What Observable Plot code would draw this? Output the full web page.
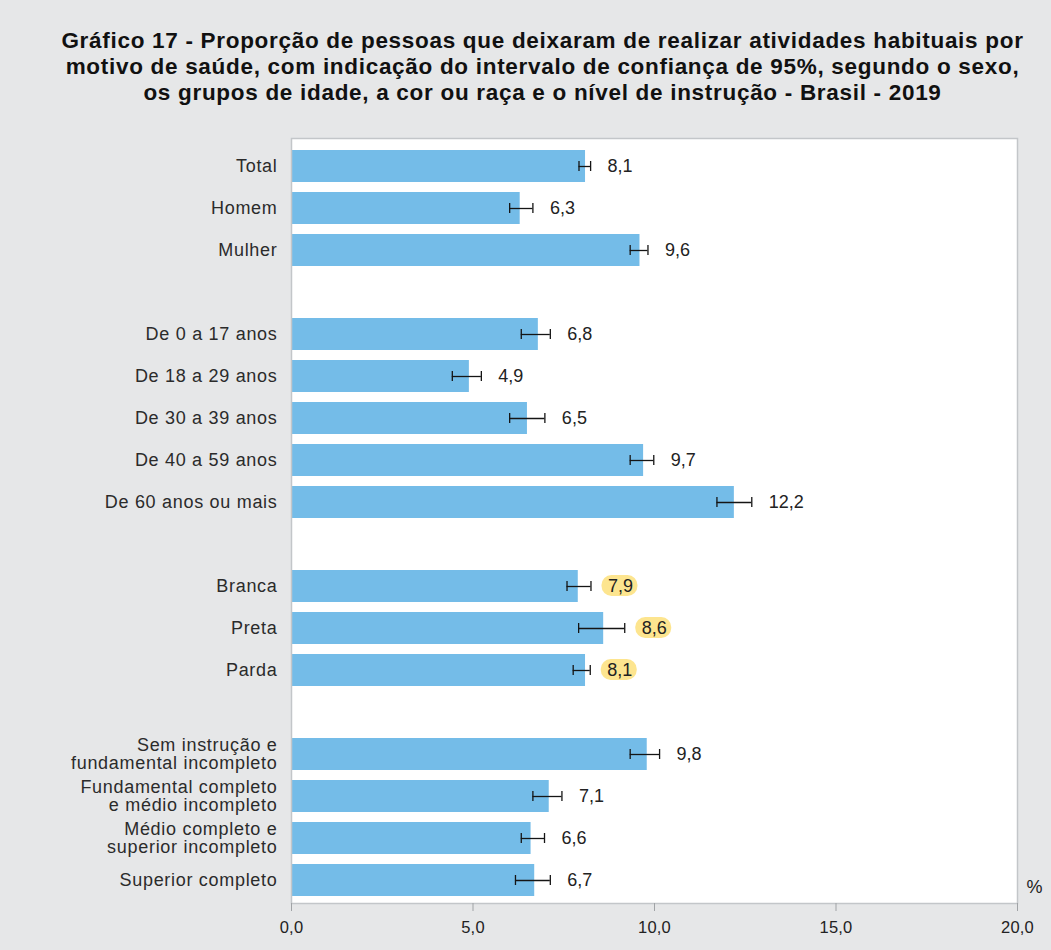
<!DOCTYPE html>
<html>
<head>
<meta charset="utf-8">
<script src="https://cdn.jsdelivr.net/npm/d3@7"></script>
<script src="https://cdn.jsdelivr.net/npm/@observablehq/plot@0.6"></script>
<style>
  html, body { margin: 0; padding: 0; background: #e6e7e8; }
  #title {
    width: 1051px; height: 120px; box-sizing: border-box; padding-top: 28px; padding-left: 34px;
    text-align: center; font-family: "Liberation Sans", Arial, sans-serif;
    font-weight: bold; font-size: 22.5px; line-height: 26px; letter-spacing: 0.7px; color: #111;
    white-space: nowrap;
  }
  #chart svg { display: block; }
  #chart svg g[aria-label="y-axis tick label"] { letter-spacing: 0.7px; }
  #chart svg g[aria-label="x-axis tick label"] { letter-spacing: 0.2px; }
</style>
</head>
<body>
<div id="title">Gráfico 17 - Proporção de pessoas que deixaram de realizar atividades habituais por<br>motivo de saúde, com indicação do intervalo de confiança de 95%, segundo o sexo,<br>os grupos de idade, a cor ou raça e o nível de instrução - Brasil - 2019</div>
<div id="chart"></div>
<script>
const categories = [
  "Total", "Homem", "Mulher",
  "De 0 a 17 anos", "De 18 a 29 anos", "De 30 a 39 anos", "De 40 a 59 anos", "De 60 anos ou mais",
  "Branca", "Preta", "Parda",
  "Sem instrução e\nfundamental incompleto", "Fundamental completo\ne médio incompleto",
  "Médio completo e\nsuperior incompleto", "Superior completo"
];
const groupIds = [0, 0, 0, 1, 1, 1, 1, 1, 2, 2, 2, 3, 3, 3, 3];
const values = [8.1, 6.3, 9.6, 6.8, 4.9, 6.5, 9.7, 12.2, 7.9, 8.6, 8.1, 9.8, 7.1, 6.6, 6.7];
const lower  = [7.92, 6.01, 9.33, 6.33, 4.43, 6.01, 9.33, 11.72, 7.59, 7.91, 7.76, 9.33, 6.65, 6.33, 6.17];
const upper  = [8.24, 6.65, 9.82, 7.13, 5.23, 6.98, 9.98, 12.68, 8.25, 9.18, 8.23, 10.14, 7.45, 6.97, 7.13];
const highlighted = ["Branca", "Preta", "Parda"];
const xTicks = [0, 5, 10, 15, 20];
const xTickLabels = ["0,0", "5,0", "10,0", "15,0", "20,0"];

const fmt = (v) => v.toFixed(1).replace(".", ",");
const data = categories.map((c, i) => ({
  category: c, value: values[i], lower: lower[i], upper: upper[i],
  label: fmt(values[i]), highlight: highlighted.includes(c)
}));
const domain = [];
categories.forEach((c, i) => {
  if (i > 0 && groupIds[i] !== groupIds[i - 1]) domain.push("gap" + groupIds[i]);
  domain.push(c);
});

const ink = "#151515";
const chart = Plot.plot({
  width: 1051, height: 830,
  marginTop: 18, marginBottom: 47, marginLeft: 291, marginRight: 34,
  style: {background: "transparent", fontFamily: "'Liberation Sans', Arial, sans-serif", fontSize: "17px", color: "#2b2b2b", overflow: "visible"},
  x: {domain: [0, 20]},
  y: {type: "band", domain, paddingInner: 0.23, paddingOuter: 0.115, insetTop: 7, insetBottom: 2},
  marks: [
    Plot.frame({fill: "white", stroke: null}),
    Plot.barX(data, {y: "category", x: "value", fill: "#74bce8"}),
    Plot.ruleY(data, {y: "category", x1: "lower", x2: "upper", stroke: ink, strokeWidth: 1.3}),
    Plot.tickX(data, {y: "category", x: "lower", stroke: ink, strokeWidth: 1.3, insetTop: 11, insetBottom: 11}),
    Plot.tickX(data, {y: "category", x: "upper", stroke: ink, strokeWidth: 1.3, insetTop: 11, insetBottom: 11}),
    Plot.barX(data.filter(d => d.highlight), {y: "category", x1: "upper", x2: "upper", insetLeft: 11, insetRight: -47, insetTop: 5, insetBottom: 6, rx: 10, fill: "#fde58f"}),
    Plot.text(data, {y: "category", x: "upper", text: "label", dx: 17, textAnchor: "start", fill: "#222", fontSize: 18}),
    Plot.frame({stroke: "#c3c6c9", strokeWidth: 1.5}),
    Plot.axisX({ticks: xTicks, tickFormat: d => xTickLabels[xTicks.indexOf(d)], tickSize: 8, tickPadding: 10, stroke: "#a0a3a6", fill: "#222", fontSize: 16.5, label: null}),
    Plot.axisY({tickSize: 0, tickPadding: 14, tickFormat: d => d.startsWith("gap") ? "" : d, fill: "#2b2b2b", fontSize: 18, lineHeight: 1.0, label: null}),
    Plot.text(["%"], {frameAnchor: "bottom-right", textAnchor: "start", dx: 9, dy: -11, fill: "#222", fontSize: 18})
  ]
});
document.getElementById("chart").append(chart);
</script>
</body>
</html>
